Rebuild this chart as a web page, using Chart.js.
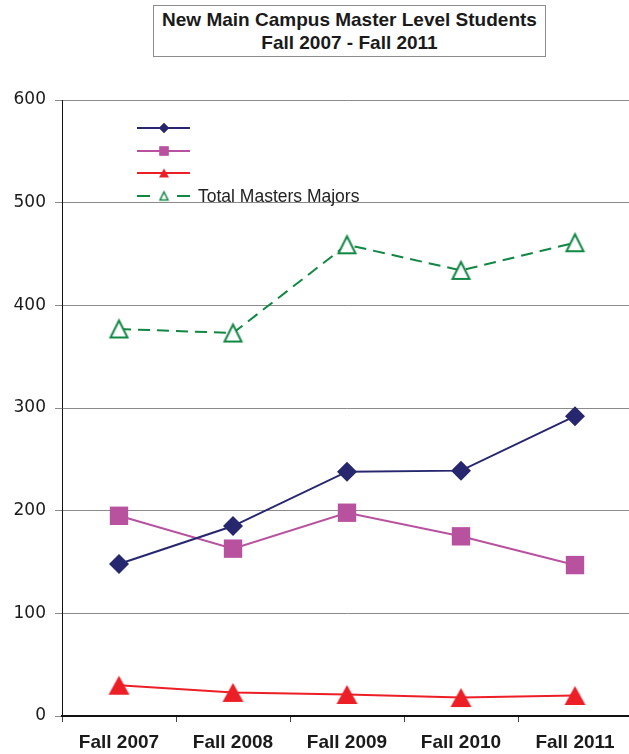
<!DOCTYPE html>
<html><head><meta charset="utf-8">
<script src="https://cdn.jsdelivr.net/npm/chart.js@4/dist/chart.umd.min.js"></script>
<style>
html,body{margin:0;padding:0;background:#fff;overflow:hidden;width:629px;height:754px}
#wrap{position:relative;width:632px;height:754px}
#title{position:absolute;left:153px;top:5px;width:393px;height:52px;border:1px solid #8c8c8c;font:bold 19px "Liberation Sans",Arial,sans-serif;text-align:center;line-height:23px;color:#1a1a1a;box-sizing:border-box;padding-top:2px;background:#fff;white-space:nowrap}
</style></head><body>
<div id="wrap"><canvas id="c" width="632" height="754"></canvas>
<div id="title">New Main Campus Master Level Students<br>Fall 2007 - Fall 2011</div></div>
<script>
const categories = ['Fall 2007','Fall 2008','Fall 2009','Fall 2010','Fall 2011'];
const seriesA = [148, 185, 238, 239, 292];
const seriesB = [195, 163, 198, 175, 147];
const seriesC = [30, 23, 21, 18, 20];
const totalMasters = [377, 373, 459, 434, 461];
const legendLabels = ['', '', '', 'Total Masters Majors'];
const yTicks = [0, 100, 200, 300, 400, 500, 600];

const NAVY = '#27276f', PINK = '#b8529f', RED = '#ec1f27', GREEN = '#108743';

function makeTri(w, h, fill, stroke, lw) {
  const p = lw || 0;
  const c = document.createElement('canvas');
  c.width = w + p * 2 + 2; c.height = h + p * 2 + 2;
  const g = c.getContext('2d');
  const ox = p + 1, oy = p + 1;
  g.beginPath();
  g.moveTo(ox + w / 2, oy);
  g.lineTo(ox + w, oy + h);
  g.lineTo(ox, oy + h);
  g.closePath();
  if (fill) { g.fillStyle = fill; g.fill(); }
  if (stroke) { g.strokeStyle = stroke; g.lineWidth = lw; g.stroke(); }
  return c;
}
const redTri = makeTri(21, 19, RED, null, 0);
const greenTri = makeTri(17, 17, '#fff', GREEN, 2);
const redTriS = makeTri(10, 9, RED, null, 0);
const greenTriS = makeTri(8, 8, '#fff', GREEN, 1.5);

const legendY = [128, 151, 173, 196];
const legendPlugin = {
  id: 'customLegend',
  afterDraw(chart) {
    const ctx = chart.ctx;
    const x0 = 137, x1 = 190, xm = 164;
    chart.data.datasets.forEach((ds, i) => {
      const y = legendY[i];
      ctx.save();
      ctx.strokeStyle = ds.borderColor;
      ctx.lineWidth = 2;
      ctx.beginPath();
      if (ds.borderDash) {
        ctx.moveTo(x0, y); ctx.lineTo(x0 + 13, y);
        ctx.moveTo(x1 - 13, y); ctx.lineTo(x1, y);
      } else {
        ctx.moveTo(x0, y); ctx.lineTo(x1, y);
      }
      ctx.stroke();
      const ms = [ {pointStyle:'rectRot', radius:5}, {pointStyle:'rect', radius:6.5}, {pointStyle:redTriS}, {pointStyle:greenTriS} ][i];
      ctx.fillStyle = ds.pointBackgroundColor;
      ctx.strokeStyle = ds.pointBorderColor;
      ctx.lineWidth = 1;
      Chart.helpers.drawPoint(ctx, {pointStyle: ms.pointStyle, radius: ms.radius || 5, rotation: 0, borderWidth: 0}, xm, y);
      if (typeof ms.pointStyle === 'string') ctx.fill();
      if (ds.label) {
        ctx.fillStyle = '#222';
        ctx.font = '17.5px "Liberation Sans", Arial, sans-serif';
        ctx.textBaseline = 'middle';
        ctx.textAlign = 'left';
        ctx.fillText(ds.label, 198, y + 1);
      }
      ctx.restore();
    });
  }
};

new Chart(document.getElementById('c'), {
  type: 'line',
  data: {
    labels: categories,
    datasets: [
      { label: legendLabels[0], data: seriesA, borderColor: NAVY, backgroundColor: NAVY, pointBackgroundColor: NAVY, pointBorderColor: NAVY, borderWidth: 2, pointStyle: 'rectRot', pointRadius: 10, pointBorderWidth: 0, tension: 0 },
      { label: legendLabels[1], data: seriesB, borderColor: PINK, backgroundColor: PINK, pointBackgroundColor: PINK, pointBorderColor: PINK, borderWidth: 2, pointStyle: 'rect', pointRadius: 13, pointBorderWidth: 0, tension: 0 },
      { label: legendLabels[2], data: seriesC, borderColor: RED, backgroundColor: RED, pointBackgroundColor: RED, pointBorderColor: RED, borderWidth: 2, pointStyle: redTri, pointRadius: 10, pointBorderWidth: 0, tension: 0 },
      { label: legendLabels[3], data: totalMasters, borderColor: GREEN, backgroundColor: '#fff', pointBackgroundColor: '#fff', pointBorderColor: GREEN, borderWidth: 2, borderDash: [12, 7], pointStyle: greenTri, pointRadius: 10, pointBorderWidth: 0, tension: 0 }
    ]
  },
  options: {
    responsive: false,
    animation: false,
    layout: { autoPadding: false, padding: { top: 100, left: 0, right: 0, bottom: 0 } },
    plugins: { legend: { display: false }, title: { display: false }, tooltip: { enabled: false } },
    scales: {
      x: {
        offset: true,
        grid: { offset: true, drawOnChartArea: false, drawTicks: true, tickLength: 6, color: '#444', lineWidth: 1 },
        border: { color: '#111', width: 2 },
        ticks: { color: '#1a1a1a', padding: 9, maxRotation: 0, font: { family: '"Liberation Sans", Arial, sans-serif', size: 19, weight: 'bold' } },
        afterFit(s) { s.height = 38; s.paddingLeft = 0; s.paddingRight = 0; }
      },
      y: {
        min: 0, max: 600,
        afterBuildTicks(s) { s.ticks = yTicks.map(v => ({ value: v })); },
        grid: { color: '#8a8a8a', lineWidth: 1, drawTicks: true, tickLength: 7, tickColor: '#8a8a8a' },
        border: { color: '#111', width: 1 },
        ticks: { color: '#1a1a1a', padding: 9, font: { family: '"DejaVu Sans", sans-serif', size: 17 } },
        afterFit(s) { s.width = 62; }
      }
    }
  },
  plugins: [legendPlugin]
});
</script>
</body></html>
